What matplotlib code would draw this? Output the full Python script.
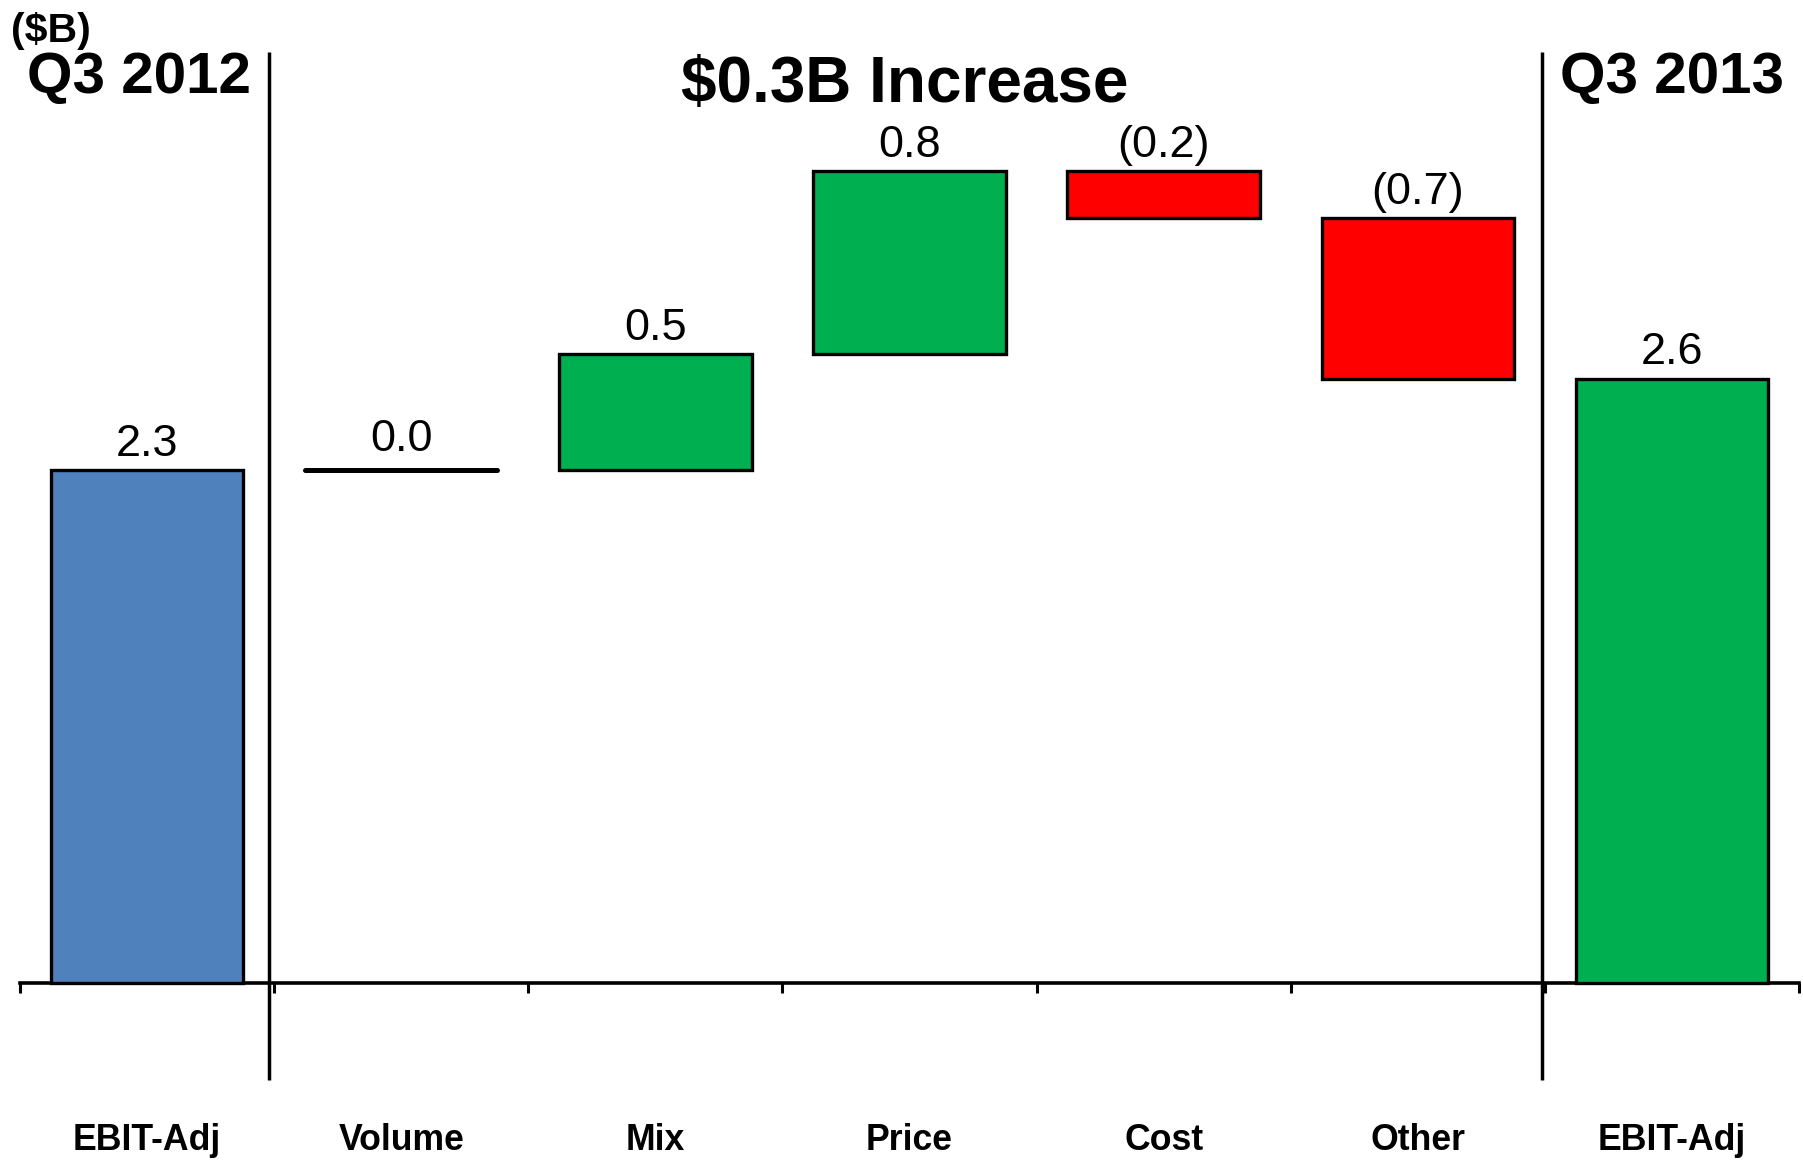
import matplotlib
matplotlib.use("Agg")
import matplotlib.pyplot as plt

# EBIT-Adj bridge, Q3 2012 -> Q3 2013 ($B)
categories = ["EBIT-Adj", "Volume", "Mix", "Price", "Cost", "Other", "EBIT-Adj"]
start_value = 2.30
deltas = [0.0, 0.52, 0.82, -0.21, -0.72]   # Volume, Mix, Price, Cost, Other
end_value = 2.71
value_labels = ["2.3", "0.0", "0.5", "0.8", "(0.2)", "(0.7)", "2.6"]
headers = ["Q3 2012", "$0.3B Increase", "Q3 2013"]

BLUE = "#4F81BD"
GREEN = "#00B050"
RED = "#FF0000"

plt.rcParams["font.family"] = ["Liberation Sans", "DejaVu Sans"]

W, H = 1803, 1160
fig = plt.figure(figsize=(W / 100, H / 100), dpi=100)
ax = fig.add_axes([0, 0, 1, 1])

# pixel scales
px_y = 223.0            # px per $1B
base_px = 983.0         # y pixel of the zero line
left_px, right_px = 20, 1799
cat_px = (right_px - left_px) / 7
ax.set_xlim(-0.5 - left_px / cat_px, -0.5 - left_px / cat_px + W / cat_px)
ax.set_ylim(-(H - base_px) / px_y, base_px / px_y)

def ypx(p):
    # pixel row (from top) -> data y
    return (base_px - p) / px_y

bw = 0.757
# start bar
ax.bar(0, start_value, width=bw, color=BLUE, edgecolor="black", linewidth=2.4, zorder=3)
tops = [start_value]

level = start_value
for i, d in enumerate(deltas, start=1):
    if d == 0:
        ax.hlines(level, i - bw / 2, i + bw / 2, color="black", linewidth=3.6,
                  capstyle="round", zorder=3)
        tops.append(level + 0.02)
    else:
        bottom = level if d > 0 else level + d
        ax.bar(i, abs(d), bottom=bottom, width=bw, color=GREEN if d > 0 else RED,
               edgecolor="black", linewidth=2.4, zorder=3)
        tops.append(bottom + abs(d))
    level += d

ax.bar(6, end_value, width=bw, color=GREEN, edgecolor="black", linewidth=2.4, zorder=3)
tops.append(end_value)

for i, (t, lab) in enumerate(zip(tops, value_labels)):
    ax.annotate(lab, (i, t), xytext=(0, 10.5), textcoords="offset points",
                ha="center", va="baseline", fontsize=32.5, color="black")

# axis line with boundary ticks
for s in ["left", "right", "top"]:
    ax.spines[s].set_visible(False)
ax.spines["bottom"].set_position(("data", 0))
ax.spines["bottom"].set_bounds(-0.5, 6.5)
ax.spines["bottom"].set_linewidth(2.6)
ax.set_yticks([])
ax.set_xticks([i - 0.5 for i in range(8)])
ax.set_xticklabels([])
ax.tick_params(axis="x", direction="out", length=7, width=2.2)

# category labels
for i, c in enumerate(categories):
    ax.text(i, ypx(1150), c, ha="center", va="baseline", fontsize=25.7, fontweight="bold")

# section separators
ax.vlines([0.48, 5.49], ypx(1080), ypx(52), color="black", linewidth=2.5)

# headers
ax.text(-0.03, ypx(93), headers[0], ha="center", va="baseline", fontsize=42, fontweight="bold")
ax.text(2.98, ypx(102), headers[1], ha="center", va="baseline", fontsize=46, fontweight="bold")
ax.text(6.0, ypx(93), headers[2], ha="center", va="baseline", fontsize=42, fontweight="bold")
ax.text(-0.5 - 9 / cat_px, ypx(42), "($B)", ha="left", va="baseline", fontsize=29.5,
        fontweight="bold")

fig.savefig("out.png", dpi=100)
